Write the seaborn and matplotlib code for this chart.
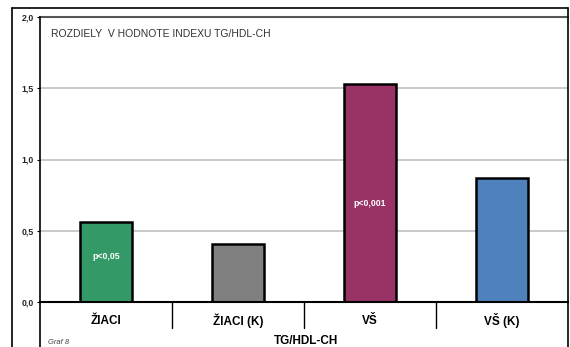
import matplotlib
matplotlib.use("Agg")
import matplotlib.pyplot as plt
from matplotlib.lines import Line2D
import seaborn as sns
import pandas as pd

categories = ["ŽIACI", "ŽIACI (K)", "VŠ", "VŠ (K)"]
values = [0.56, 0.41, 1.53, 0.87]
colors = ["#339966", "#808080", "#993366", "#4f81bd"]
bar_notes = {"ŽIACI": ("p<0,05", 0.32), "VŠ": ("p<0,001", 0.69)}
y_ticks = [0.0, 0.5, 1.0, 1.5, 2.0]
y_tick_labels = ["0,0", "0,5", "1,0", "1,5", "2,0"]
title = "ROZDIELY  V HODNOTE INDEXU TG/HDL-CH"
x_title = "TG/HDL-CH"
caption = "Graf 8"

sns.set_theme(style="white")
plt.rcParams["font.family"] = ["Liberation Sans", "DejaVu Sans"]

df = pd.DataFrame({"skupina": categories, "hodnota": values})

W, H = 570, 347
fig = plt.figure(figsize=(W / 100, H / 100), dpi=100)
fig.patch.set_facecolor("white")
ax = fig.add_axes([40 / W, 1 - 302 / H, 528 / W, 285 / H])

sns.barplot(data=df, x="skupina", y="hodnota", hue="skupina",
            palette=colors, width=0.4, legend=False, ax=ax,
            edgecolor="black", linewidth=1.8, saturation=1)

ax.set_ylim(0, 2.0)
ax.set_xlim(-0.5, 3.5)
ax.set_yticks(y_ticks)
ax.set_yticklabels(y_tick_labels, fontsize=6.3, fontweight="bold")
ax.tick_params(axis="y", length=2.5, width=0.8, pad=2, left=True, color="black")
ax.tick_params(axis="x", length=0)
ax.set_xticks([])
ax.set_xlabel("")
ax.set_ylabel("")

for y in [0.5, 1.0, 1.5]:
    ax.axhline(y, color="#c0c0c0", lw=1.2, zorder=0)
for s in ["top", "right"]:
    ax.spines[s].set_visible(False)
ax.axhline(2.0, color="#555555", lw=1.5, zorder=0, clip_on=False)
ax.spines["left"].set_color("black")
ax.spines["left"].set_linewidth(1.2)
ax.spines["bottom"].set_color("black")
ax.spines["bottom"].set_linewidth(1.5)

for i, cat in enumerate(categories):
    ax.text(i, -0.13, cat, ha="center", va="center", fontsize=8.5,
            fontweight="bold", color="black")
    if cat in bar_notes:
        txt, yy = bar_notes[cat]
        ax.text(i, yy, txt, ha="center", va="center", fontsize=6.3,
                fontweight="bold", color="white")

# category separators below the axis
for b in [0.5, 1.5, 2.5]:
    ax.plot([b, b], [0, -0.18], color="black", lw=1.0, clip_on=False)
ax.plot([-0.5, -0.5], [0, -0.35], color="black", lw=1.2, clip_on=False)

ax.text(-0.42, 1.88, title, fontsize=7.5, color="#333333", ha="left", va="center")

# outer frame of the chart
def px_line(xs, ys, lw=1.2):
    fig.add_artist(Line2D([x / W for x in xs], [1 - y / H for y in ys],
                          color="black", lw=lw, transform=fig.transFigure))

px_line([12, 568], [8, 8])
px_line([12, 12], [8, 350])
px_line([568, 568], [8, 350])

fig.text(48 / W, 1 - 342 / H, caption, fontsize=5.5, style="italic",
         color="#444444", ha="left", va="center")
fig.text(306 / W, 1 - 341 / H, x_title, fontsize=8.5, fontweight="bold",
         color="black", ha="center", va="center")

fig.savefig("out.png", dpi=100, facecolor="white")
